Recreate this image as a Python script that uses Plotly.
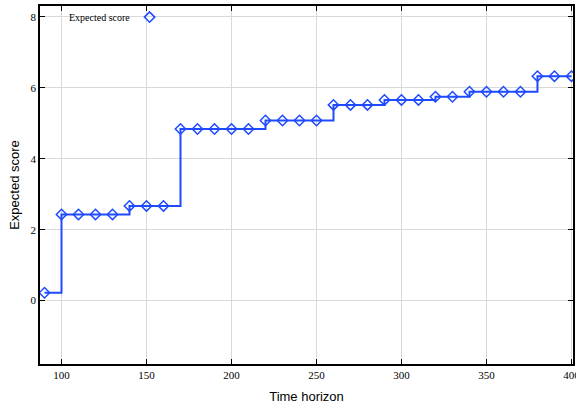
import plotly.graph_objects as go

horizon = [90, 100, 110, 120, 130, 140, 150, 160, 170, 180, 190, 200, 210, 220, 230, 240,
           250, 260, 270, 280, 290, 300, 310, 320, 330, 340, 350, 360, 370, 380, 390, 400]
score = [0.22, 2.43, 2.43, 2.43, 2.43, 2.67, 2.67, 2.67, 4.84, 4.84, 4.84, 4.84, 4.84,
         5.08, 5.08, 5.08, 5.08, 5.52, 5.52, 5.52, 5.66, 5.66, 5.66, 5.75, 5.75,
         5.89, 5.89, 5.89, 5.89, 6.33, 6.33, 6.33]

blue = "#1f4bff"

fig = go.Figure()
fig.add_trace(go.Scatter(x=horizon, y=score, mode="lines", line=dict(shape="hv", color=blue, width=2),
                         showlegend=False, hoverinfo="skip", cliponaxis=True))
fig.add_trace(go.Scatter(x=horizon, y=score, mode="markers", name="",
                         marker=dict(symbol="diamond-open", size=8, color=blue, line=dict(width=1.5, color=blue)),
                         showlegend=True, cliponaxis=True))

axis_common = dict(showline=True, linecolor="black", linewidth=1.5, mirror="ticks",
                   ticks="inside", ticklen=5, tickcolor="black", tickwidth=1,
                   showgrid=True, gridcolor="#d9d9d9", gridwidth=1, zeroline=False,
                   automargin=False, ticklabeloverflow="allow",
                   tickfont=dict(family="Liberation Serif", size=11, color="black"))

fig.update_xaxes(range=[87.35, 400.9], tickvals=[100, 150, 200, 250, 300, 350, 400],
                 title=dict(text="Time horizon", font=dict(family="Liberation Sans", size=13, color="black"), standoff=12),
                 **axis_common)
fig.update_yaxes(range=[-1.79, 8.31], tickvals=[0, 2, 4, 6, 8],
                 title=dict(text="Expected score", font=dict(family="Liberation Sans", size=13, color="black"), standoff=8),
                 **axis_common)

# white key box behind the legend (covers gridlines, as in the original key)
for x0, x1 in [(0.006, 0.1975), (0.201, 0.242)]:
    fig.add_shape(type="rect", xref="paper", yref="paper", x0=x0, x1=x1, y0=0.947, y1=1.0,
                  fillcolor="white", line=dict(width=0), layer="between")

fig.add_annotation(text="Expected score", xref="paper", yref="paper", x=0.05, y=0.969,
                   xanchor="left", yanchor="middle", showarrow=False,
                   font=dict(family="Liberation Serif", size=10, color="black"))

fig.update_layout(width=576, height=414, margin=dict(l=40, r=3, t=4, b=50),
                  plot_bgcolor="white", paper_bgcolor="white",
                  legend=dict(x=0.168, y=0.969, xanchor="left", yanchor="middle", bgcolor="rgba(0,0,0,0)",
                              font=dict(size=11), itemwidth=30))

fig.write_html("out.html", config={"displayModeBar": False},
               post_script="document.body.style.margin='0';document.body.style.overflow='hidden';")
